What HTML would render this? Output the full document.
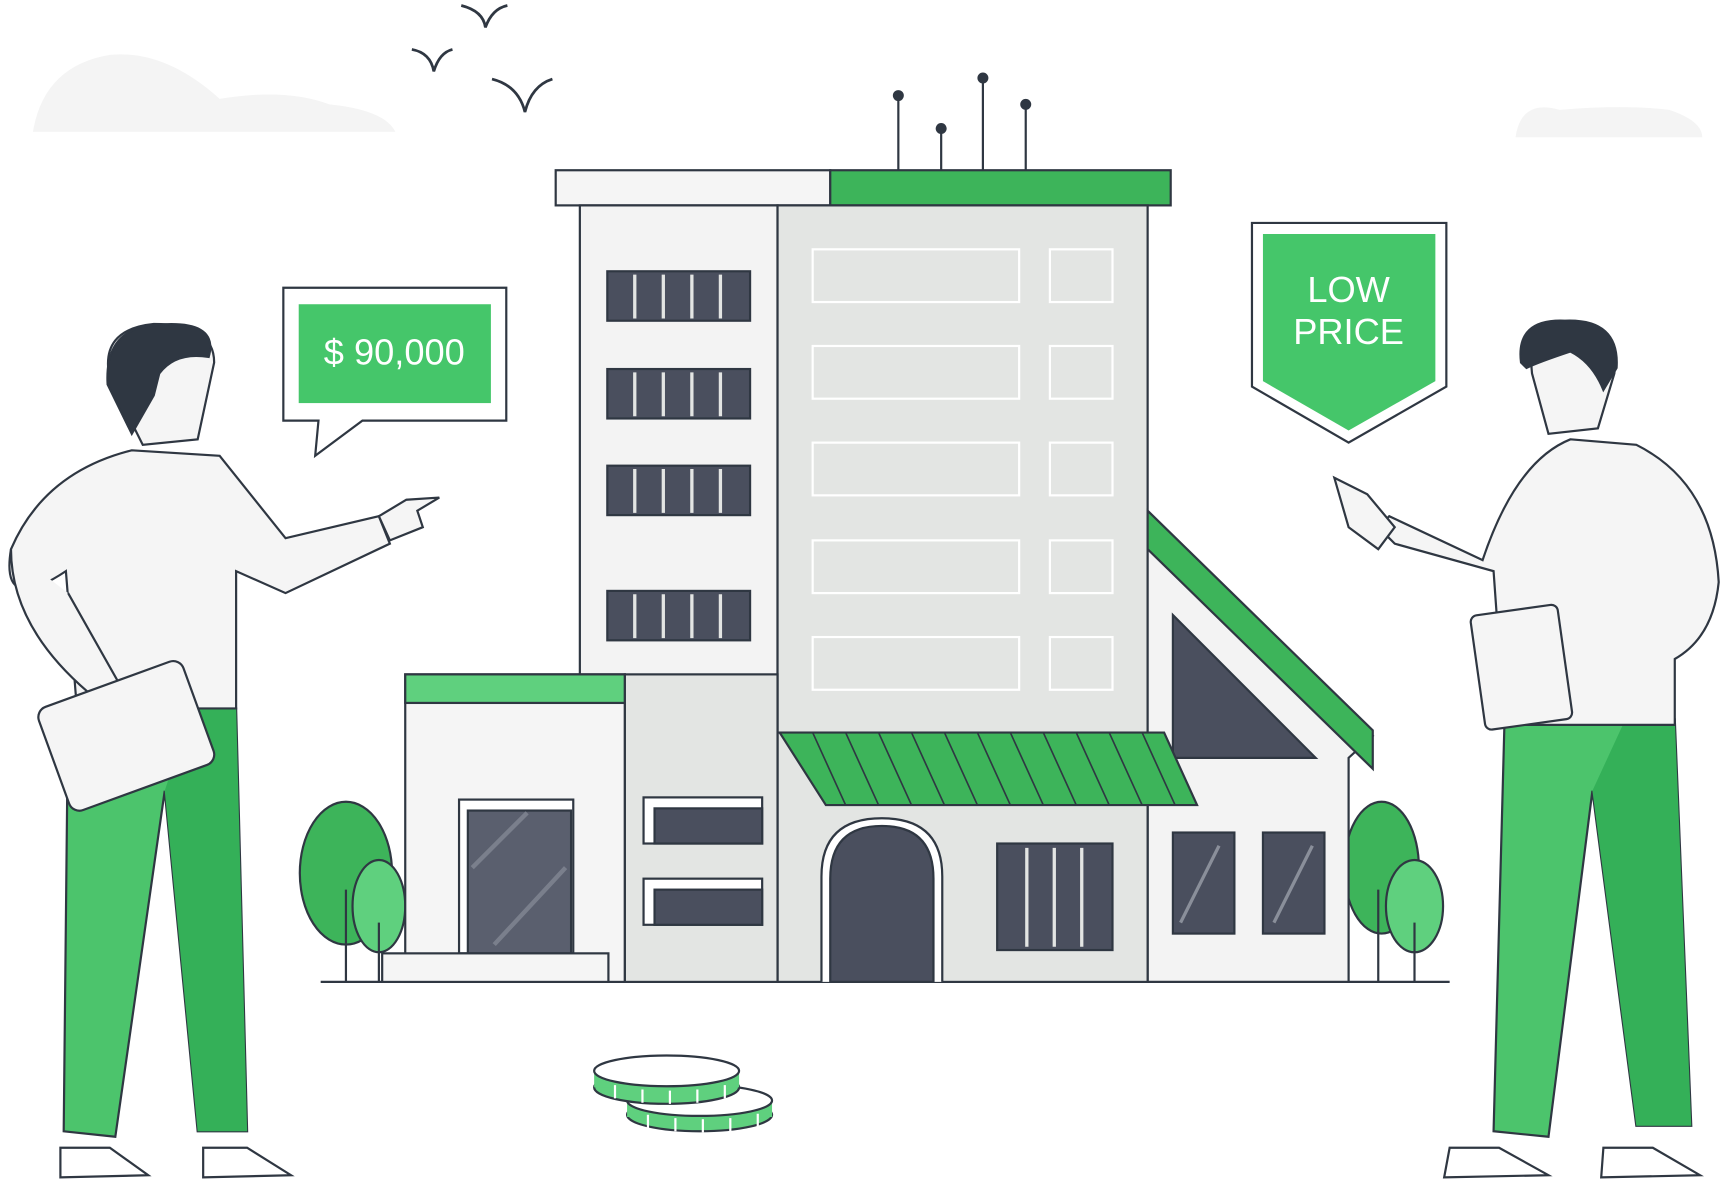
<!DOCTYPE html>
<html><head><meta charset="utf-8"><style>
html,body{margin:0;padding:0;background:#fff;}
svg{display:block}
text{font-family:"Liberation Sans",sans-serif}
</style></head><body>
<svg width="1722" height="1184" viewBox="0 0 1568 1078" preserveAspectRatio="none" xmlns="http://www.w3.org/2000/svg" stroke="#2f3742" stroke-width="2">
<path d="M30 120 Q40 60 100 50 Q150 45 200 90 Q260 80 300 95 Q350 100 360 120 Z" fill="#f4f4f4" stroke="none"/>
<path d="M1380 125 Q1385 90 1420 100 Q1480 95 1520 100 Q1550 110 1550 125 Z" fill="#f4f4f4" stroke="none"/>
<g fill="none" stroke-width="2.5">
<path d="M420 5 Q440 10 442 25 Q448 8 462 5"/>
<path d="M375 45 Q392 48 395 65 Q400 48 412 45"/>
<path d="M448 72 Q472 78 478 102 Q484 78 503 72"/>
</g>
<line x1="292" y1="894" x2="1320" y2="894"/>
<g>
<ellipse cx="315" cy="795" rx="42" ry="65" fill="#3db45a"/>
<line x1="315" y1="810" x2="315" y2="894"/>
<ellipse cx="345" cy="825" rx="24" ry="42" fill="#5fd07e"/>
<line x1="345" y1="840" x2="345" y2="894"/>
<ellipse cx="1258" cy="790" rx="34" ry="60" fill="#3db45a"/>
<line x1="1255" y1="810" x2="1255" y2="894"/>
<ellipse cx="1288" cy="825" rx="26" ry="42" fill="#5fd07e"/>
<line x1="1288" y1="840" x2="1288" y2="894"/>
</g>
<g fill="#2f3742">
<line x1="818" y1="88" x2="818" y2="155"/><circle cx="818" cy="87" r="4"/>
<line x1="857" y1="118" x2="857" y2="155"/><circle cx="857" cy="117" r="4"/>
<line x1="895" y1="72" x2="895" y2="155"/><circle cx="895" cy="71" r="4"/>
<line x1="934" y1="96" x2="934" y2="155"/><circle cx="934" cy="95" r="4"/>
</g>
<rect x="506" y="155" width="250" height="32" fill="#f5f5f5"/>
<rect x="756" y="155" width="310" height="32" fill="#3db45a"/>
<rect x="528" y="187" width="180" height="430" fill="#f3f3f3"/>
<g fill="#4a4f5e">
<rect x="553" y="247" width="130" height="45"/>
<rect x="553" y="336" width="130" height="45"/>
<rect x="553" y="424" width="130" height="45"/>
<rect x="553" y="538" width="130" height="45"/>
</g>
<g stroke="#e3e5e3" stroke-width="3">
<path d="M578 250V290M604 250V290M630 250V290M656 250V290"/>
<path d="M578 339V379M604 339V379M630 339V379M656 339V379"/>
<path d="M578 427V467M604 427V467M630 427V467M656 427V467"/>
<path d="M578 541V581M604 541V581M630 541V581M656 541V581"/>
</g>
<rect x="708" y="187" width="337" height="480" fill="#e3e5e3"/>
<g fill="none" stroke="#fff" stroke-width="2">
<rect x="740" y="227" width="188" height="48"/><rect x="956" y="227" width="57" height="48"/>
<rect x="740" y="315" width="188" height="48"/><rect x="956" y="315" width="57" height="48"/>
<rect x="740" y="403" width="188" height="48"/><rect x="956" y="403" width="57" height="48"/>
<rect x="740" y="492" width="188" height="48"/><rect x="956" y="492" width="57" height="48"/>
<rect x="740" y="580" width="188" height="48"/><rect x="956" y="580" width="57" height="48"/>
</g>
<polygon points="1045,470 1250,670 1228,690 1228,894 1045,894" fill="#f3f3f3"/>
<polygon points="1045,465 1250,665 1250,700 1045,500" fill="#3db45a"/>
<polygon points="1068,560 1198,690 1068,690" fill="#4a4f5e"/>
<rect x="1068" y="758" width="56" height="92" fill="#4a4f5e"/>
<rect x="1150" y="758" width="56" height="92" fill="#4a4f5e"/>
<g stroke="#8a8f9a" stroke-width="3"><path d="M1075 840L1110 770M1160 840L1195 770"/></g>
<rect x="708" y="667" width="337" height="227" fill="#e3e5e3"/>
<polygon points="710,667 1060,667 1090,733 752,733" fill="#3db45a"/>
<g stroke="#2f3742" stroke-width="1.5">
<path d="M740 667L770 733M770 667L800 733M800 667L830 733M830 667L860 733M860 667L890 733M890 667L920 733M920 667L950 733M950 667L980 733M980 667L1010 733M1010 667L1040 733M1040 667L1070 733"/>
</g>
<path d="M748 894 V798 Q748 745 803 745 Q858 745 858 798 V894" fill="#fff"/>
<path d="M756 894 V800 Q756 752 803 752 Q850 752 850 800 V894 Z" fill="#4a4f5e"/>
<rect x="908" y="768" width="105" height="97" fill="#4a4f5e"/>
<g stroke="#e3e5e3" stroke-width="3"><path d="M935 772V862M960 772V862M985 772V862"/></g>
<rect x="369" y="614" width="200" height="280" fill="#f5f5f5"/>
<rect x="369" y="614" width="200" height="26" fill="#5fd07e"/>
<rect x="569" y="614" width="139" height="280" fill="#e3e5e3"/>
<rect x="418" y="728" width="104" height="140" fill="#fff"/>
<rect x="426" y="738" width="94" height="130" fill="#5a5f6e"/>
<g stroke="#7a7f8c" stroke-width="4"><path d="M430 790L480 740M450 860L515 790"/></g>
<rect x="348" y="868" width="206" height="26" fill="#f5f5f5"/>
<rect x="586" y="726" width="108" height="42" fill="#fff"/>
<rect x="596" y="736" width="98" height="32" fill="#4a4f5e"/>
<rect x="586" y="800" width="108" height="42" fill="#fff"/>
<rect x="596" y="810" width="98" height="32" fill="#4a4f5e"/>
<ellipse cx="637" cy="1015" rx="66" ry="15" fill="#5fd07e"/>
<rect x="571" y="1002" width="132" height="15" fill="#5fd07e" stroke="none"/>
<ellipse cx="637" cy="1002" rx="66" ry="14" fill="#fff"/>
<g stroke="#fff" stroke-width="2"><path d="M590 1015v12M615 1018v12M640 1019v12M665 1018v12M690 1014v12"/></g>
<ellipse cx="607" cy="990" rx="66" ry="15" fill="#5fd07e"/>
<rect x="541" y="975" width="132" height="15" fill="#5fd07e" stroke="none"/>
<ellipse cx="607" cy="975" rx="66" ry="14" fill="#fff"/>
<g stroke="#fff" stroke-width="2"><path d="M560 988v12M585 992v12M610 993v12M635 992v12M660 988v12"/></g>
<path d="M258 262 H461 V383 H330 L287 415 L290 383 H258 Z" fill="#fff"/>
<rect x="272" y="277" width="175" height="90" fill="#45c66a" stroke="none"/>
<text x="359" y="332" font-size="33" fill="#fff" stroke="none" text-anchor="middle">$ 90,000</text>
<path d="M1140 203 H1317 V352 L1228 403 L1140 352 Z" fill="#fff"/>
<path d="M1150 213 H1307 V347 L1228 392 L1150 347 Z" fill="#45c66a" stroke="none"/>
<text x="1228" y="275" font-size="33" fill="#fff" stroke="none" text-anchor="middle">LOW</text>
<text x="1228" y="313" font-size="33" fill="#fff" stroke="none" text-anchor="middle">PRICE</text>
<!-- left man -->
<path d="M62 645 L215 645 L225 1030 L180 1030 L150 720 L105 1035 L58 1030 Z" fill="#4cc46c"/>
<path d="M150 720 L180 1030 L225 1030 L215 645 L175 645 Z" fill="#34b058" stroke="none"/>
<path d="M120 410 L200 415 L260 490 L345 470 L355 495 L260 540 L215 520 L215 645 L70 645 L60 520 Q0 560 10 500 Q40 430 120 410 Z" fill="#f5f5f5"/>
<path d="M10 500 Q10 570 80 630 L100 640 L110 625 L62 540" fill="#f5f5f5"/>
<path d="M345 470 L370 455 L400 453 L380 465 L385 480 L355 492 Z" fill="#f5f5f5"/>
<rect x="45" y="620" width="140" height="100" rx="10" transform="rotate(-20 115 670)" fill="#f5f5f5"/>
<path d="M100 345 Q90 300 140 295 Q195 295 195 330 L180 400 L130 405 Z" fill="#f5f5f5"/>
<path d="M98 350 Q95 300 140 296 Q200 290 190 325 Q160 320 145 340 L140 360 L120 395 Z" fill="#2f3742"/>
<path d="M55 1045 L100 1045 L135 1070 L55 1072 Z" fill="#fff"/>
<path d="M185 1045 L225 1045 L265 1070 L185 1072 Z" fill="#fff"/>
<!-- right man -->
<path d="M1370 655 L1525 655 L1540 1025 L1490 1025 L1450 720 L1410 1035 L1360 1030 Z" fill="#4cc46c"/>
<path d="M1450 720 L1490 1025 L1540 1025 L1525 655 L1480 655 Z" fill="#34b058" stroke="none"/>
<path d="M1430 400 L1490 405 Q1560 440 1565 530 Q1560 580 1525 600 L1525 660 L1370 660 L1360 520 L1270 495 L1255 480 L1265 470 L1350 510 Q1380 420 1430 400 Z" fill="#f5f5f5"/>
<path d="M1215 435 L1245 450 L1270 480 L1255 500 L1228 480 Z" fill="#f5f5f5"/>
<rect x="1345" y="555" width="80" height="105" rx="6" transform="rotate(-8 1385 605)" fill="#f5f5f5"/>
<path d="M1395 340 Q1390 295 1430 295 Q1475 295 1470 340 L1455 390 L1410 395 Z" fill="#f5f5f5"/>
<path d="M1385 330 Q1380 290 1425 292 Q1475 290 1472 335 L1460 355 Q1450 330 1430 320 Q1400 330 1390 335 Z" fill="#2f3742"/>
<path d="M1320 1045 L1365 1045 L1410 1070 L1315 1072 Z" fill="#fff"/>
<path d="M1460 1045 L1505 1045 L1548 1070 L1458 1072 Z" fill="#fff"/>
</svg>
</body></html>
